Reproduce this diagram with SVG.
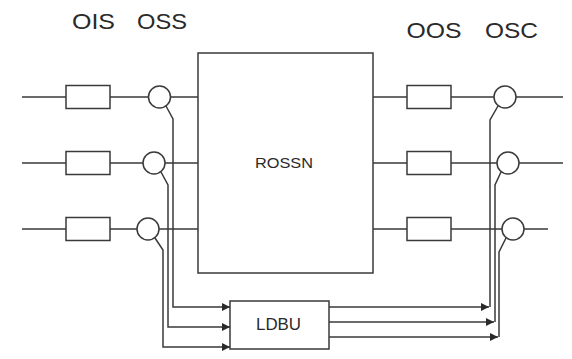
<svg xmlns="http://www.w3.org/2000/svg" width="572" height="359" viewBox="0 0 572 359">
<style>
.ln{fill:none;stroke:#3a3a3a;stroke-width:1.5}
.bx{fill:#fff;stroke:#3a3a3a;stroke-width:1.5}
.lb{font-family:"Liberation Sans",Arial,sans-serif;fill:#2a2a2a;text-anchor:middle}
</style>
<defs>
<marker id="ah" markerUnits="userSpaceOnUse" markerWidth="9" markerHeight="8" refX="8" refY="4" orient="auto">
<path d="M0,0 L8,4 L0,8 Z" fill="#2a2a2a"/>
</marker>
</defs>
<rect width="572" height="359" fill="#fff"/>
<g id="labels">
<text class="lb" x="93.5" y="29" font-size="22" textLength="43" lengthAdjust="spacingAndGlyphs">OIS</text>
<text class="lb" x="162" y="29" font-size="22" textLength="50" lengthAdjust="spacingAndGlyphs">OSS</text>
<text class="lb" x="434" y="38" font-size="22" textLength="55" lengthAdjust="spacingAndGlyphs">OOS</text>
<text class="lb" x="511.5" y="38" font-size="22" textLength="53" lengthAdjust="spacingAndGlyphs">OSC</text>
</g>
<g id="connectors">
<!-- left rows -->
<path class="ln" d="M22,97 H66 M110,97 H148.5 M170.5,97 H198"/>
<path class="ln" d="M22,163 H66 M110,163 H143 M165,163 H198"/>
<path class="ln" d="M22,229 H66 M110,229 H137 M159,229 H198"/>
<!-- right rows -->
<path class="ln" d="M373,97 H407 M451,97 H494 M516,97 H563"/>
<path class="ln" d="M373,163 H407 M451,163 H497 M519,163 H563"/>
<path class="ln" d="M373,229 H407 M451,229 H502 M524,229 H548"/>
<!-- left taps to LDBU -->
<path class="ln" marker-end="url(#ah)" d="M166,106 L173,119 V307 H230"/>
<path class="ln" marker-end="url(#ah)" d="M161,172 L168,185 V327 H230"/>
<path class="ln" marker-end="url(#ah)" d="M155,238 L163,250 V347 H230"/>
<!-- LDBU to right couplers -->
<path class="ln" marker-end="url(#ah)" d="M329,307 H489"/>
<path class="ln" marker-end="url(#ah)" d="M329,322 H494"/>
<path class="ln" marker-end="url(#ah)" d="M329,337 H498"/>
<path class="ln" d="M498,106 L490,120 V307"/>
<path class="ln" d="M501,172 L495,185 V322"/>
<path class="ln" d="M506,238 L499,252 V337"/>
</g>
<g id="OIS1"><rect class="bx" x="66" y="85.5" width="44" height="23"/></g>
<g id="OIS2"><rect class="bx" x="66" y="151.5" width="44" height="23"/></g>
<g id="OIS3"><rect class="bx" x="66" y="217.5" width="44" height="23"/></g>
<g id="OSS1"><circle class="ln" cx="159.5" cy="97" r="11"/></g>
<g id="OSS2"><circle class="ln" cx="154" cy="163" r="11"/></g>
<g id="OSS3"><circle class="ln" cx="148" cy="229" r="11"/></g>
<g id="OOS1"><rect class="bx" x="407" y="85.5" width="44" height="23"/></g>
<g id="OOS2"><rect class="bx" x="407" y="151.5" width="44" height="23"/></g>
<g id="OOS3"><rect class="bx" x="407" y="217.5" width="44" height="23"/></g>
<g id="OSC1"><circle class="ln" cx="505" cy="97" r="11"/></g>
<g id="OSC2"><circle class="ln" cx="508" cy="163" r="11"/></g>
<g id="OSC3"><circle class="ln" cx="513" cy="229" r="11"/></g>
<g id="ROSSN">
<rect class="ln" x="198" y="53" width="175" height="220"/>
<text class="lb" x="284" y="168" font-size="15" textLength="58" lengthAdjust="spacingAndGlyphs">ROSSN</text>
</g>
<g id="LDBU">
<rect class="bx" x="230" y="301" width="99" height="48"/>
<text class="lb" x="278.5" y="330" font-size="16" textLength="45" lengthAdjust="spacingAndGlyphs">LDBU</text>
</g>
</svg>
